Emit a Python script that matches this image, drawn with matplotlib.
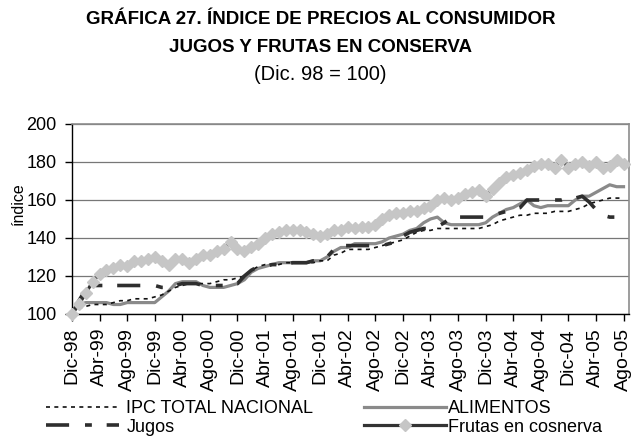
import numpy as np
import matplotlib
matplotlib.use("Agg")
import matplotlib.pyplot as plt

plt.rcParams['font.family'] = ['Liberation Sans', 'DejaVu Sans']

##datos mensuales Dic-98 a Ago-05
tick_labels = ['Dic-98', 'Abr-99', 'Ago-99', 'Dic-99', 'Abr-00', 'Ago-00', 'Dic-00',
               'Abr-01', 'Ago-01', 'Dic-01', 'Abr-02', 'Ago-02', 'Dic-02', 'Abr-03',
               'Ago-03', 'Dic-03', 'Abr-04', 'Ago-04', 'Dic-04', 'Abr-05', 'Ago-05']

ipc = [100, 103, 104, 105, 105, 105, 106, 107, 107, 108,
       108, 108, 109, 110, 112, 114, 115, 116, 116, 116,
       116, 117, 118, 118, 119, 120, 123, 125, 126, 126,
       126, 127, 127, 127, 127, 127, 128, 128, 131, 132,
       134, 134, 134, 134, 135, 136, 137, 138, 139, 141,
       143, 144, 144, 145, 145, 145, 145, 145, 145, 145,
       146, 147, 149, 150, 151, 152, 152, 153, 153, 153,
       154, 154, 154, 155, 156, 158, 159, 160, 161, 161,
       161]

alimentos = [100, 105, 106, 106, 106, 106, 105, 105, 106, 106,
             106, 106, 106, 109, 112, 116, 117, 117, 117, 115,
             114, 114, 114, 115, 116, 118, 122, 124, 125, 126,
             127, 127, 127, 127, 127, 128, 128, 130, 133, 135,
             135, 137, 137, 137, 137, 138, 140, 141, 142, 144,
             145, 148, 150, 151, 148, 147, 147, 147, 147, 147,
             148, 151, 153, 155, 156, 158, 160, 157, 156, 157,
             157, 157, 157, 160, 162, 162, 164, 166, 168, 167,
             167]

jugos = [100, 107, 113, 115, 115, 115, 115, 115, 115, 115,
         115, 115, 115, 114, 114, 115, 116, 116, 116, 115,
         115, 115, 115, 116, 116, 120, 123, 125, 125, 126,
         126, 126, 127, 127, 127, 128, 128, 130, 134, 136,
         136, 136, 136, 136, 136, 136, 137, 138, 141, 143,
         144, 145, 145, 146, 148, 151, 151, 151, 151, 151,
         151, 152, 153, 154, 155, 156, 160, 160, 160, 160,
         160, 160, 161, 161, 162, 159, 155, 152, 151, 151,
         151]

frutas = [100, 105, 111, 117, 121, 123, 124, 126, 125, 128,
          128, 129, 130, 128, 126, 129, 129, 127, 129, 131,
          131, 133, 134, 138, 134, 133, 135, 137, 140, 142,
          143, 144, 144, 144, 143, 142, 141, 142, 144, 144,
          146, 145, 146, 146, 147, 150, 152, 153, 153, 154,
          154, 156, 157, 160, 161, 160, 161, 163, 164, 165,
          162, 166, 169, 172, 173, 174, 176, 178, 179, 179,
          177, 181, 177, 179, 180, 178, 180, 177, 178, 181,
          179]

meses = np.arange(len(ipc))

fig = plt.figure(figsize=(6.35, 4.43), dpi=100)
ax = fig.add_axes([0.1134, 0.2912, 0.8772, 0.4289])

l_ali, = ax.plot(meses, alimentos, color='#8a8a8a', lw=2.3, zorder=2, label='ALIMENTOS')
l_ipc, = ax.plot(meses, ipc, color='#111111', lw=1.2, dashes=(2.4, 2.6), zorder=3,
                 label='IPC TOTAL NACIONAL')
l_jug, = ax.plot(meses, jugos, color='#2e2e2e', lw=2.6, dashes=(6.4, 4.4, 1.9, 4.1), zorder=4,
                 label='Jugos')
l_fru, = ax.plot(meses, frutas, color='#333333', lw=2.3, marker='D', ms=6,
                 mfc='#c6c6c6', mec='#c6c6c6', zorder=5, clip_on=False,
                 label='Frutas en cosnerva')

ax.set_xlim(0, 80.8)
ax.set_ylim(100, 200)
ax.set_yticks(np.arange(100, 201, 20))
ax.set_xticks(np.arange(0, 81, 4))
ax.set_xticklabels(tick_labels, rotation=90)
ax.tick_params(axis='both', direction='out', length=5, width=1, color='black')
ax.tick_params(axis='y', labelsize=13, pad=6)
ax.tick_params(axis='x', labelsize=14, pad=5)
ax.grid(axis='y', color='#777777', lw=0.9)
ax.set_axisbelow(True)
for s in ['top', 'right']:
    ax.spines[s].set_color('#8c8c8c')
    ax.spines[s].set_linewidth(1.2)
for s in ['left', 'bottom']:
    ax.spines[s].set_color('black')
    ax.spines[s].set_linewidth(1.0)

##titulos
fig.text(0.505, 0.956, 'GRÁFICA 27. ÍNDICE DE PRECIOS AL CONSUMIDOR', ha='center', va='center',
         fontsize=13.5, fontweight='bold')
fig.text(0.505, 0.893, 'JUGOS Y FRUTAS EN CONSERVA', ha='center', va='center',
         fontsize=13.5, fontweight='bold')
fig.text(0.505, 0.831, '(Dic. 98 = 100)', ha='center', va='center', fontsize=14.5)
fig.text(18 / 635, 1 - 204 / 443, 'índice', rotation=90, ha='center', va='center', fontsize=11.5)

##leyenda en dos bloques
fig.legend(handles=[l_ipc, l_jug], loc='upper left', bbox_to_anchor=(46 / 635, 1 - 400 / 443),
           frameon=False, fontsize=13, handlelength=4.05, handletextpad=0.4,
           borderpad=0, borderaxespad=0, labelspacing=0.1)
fig.legend(handles=[l_ali, l_fru], loc='upper left', bbox_to_anchor=(364 / 635, 1 - 400 / 443),
           frameon=False, fontsize=13, handlelength=4.55, handletextpad=0.1,
           borderpad=0, borderaxespad=0, labelspacing=0.1)

fig.savefig('out.png', dpi=100)
